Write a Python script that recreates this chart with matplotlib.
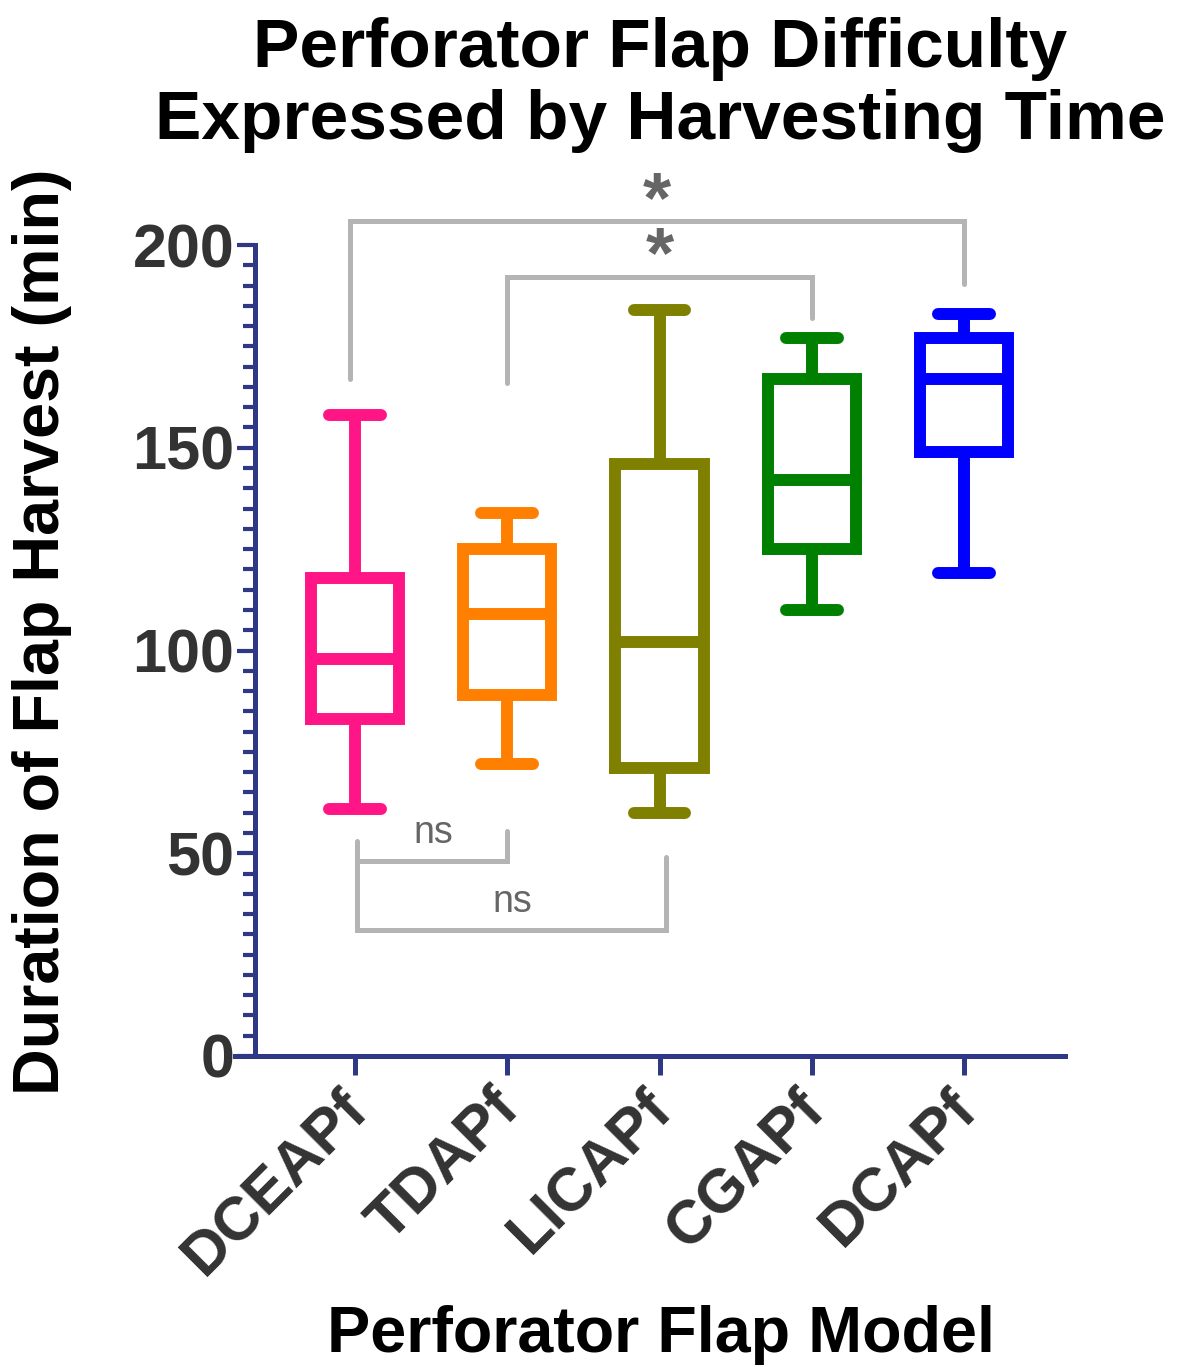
import matplotlib
matplotlib.use("Agg")
import matplotlib.pyplot as plt
from matplotlib.ticker import MultipleLocator
from matplotlib.transforms import ScaledTranslation

plt.rcParams['font.family'] = ['Liberation Sans', 'DejaVu Sans']
plt.rcParams['font.weight'] = 'bold'

# Box summary values (minutes)
models = ["DCEAPf", "TDAPf", "LICAPf", "CGAPf", "DCAPf"]
mins = [61, 72, 60, 110, 119]
q1s = [83, 89, 71, 125, 149]
medians = [98, 109, 102, 142, 167]
q3s = [118, 125, 146, 167, 177]
maxs = [158, 134, 184, 177, 183]
colors = ["#FF1585", "#FF8000", "#808000", "#008000", "#0000FF"]

# significance brackets: (left x, right x, bar y, left leg end, right leg end, label, label x, label y)
sig_pairs = [(-0.03, 4, 206, 167, 190.5, "*", 1.984, 201.9),
             (1, 3, 192, 166, 182, "*", 2.003, 188.4)]
ns_pairs = [(0.015, 1, 48, 53, 55.5, "ns", 52.5), (0.015, 2.04, 31, 48, 49, "ns", 35.5)]

navy = "#2F3884"
gray_line = "#B4B4B4"
gray_text = "#666666"

fig = plt.figure(figsize=(11.86, 13.67), dpi=100)
ax = fig.add_axes([235 / 1186, 311 / 1367, 830 / 1186, 811 / 1367])

stats = []
for i, m in enumerate(models):
    stats.append(dict(label=m, whislo=mins[i], q1=q1s[i], med=medians[i],
                      q3=q3s[i], whishi=maxs[i], fliers=[]))

lw = 8.6
for i, s in enumerate(stats):
    c = colors[i]
    ax.bxp([s], positions=[i], widths=0.58, capwidths=0.34, showfliers=False,
           boxprops=dict(color=c, linewidth=lw, solid_joinstyle="miter"),
           medianprops=dict(color=c, linewidth=lw, solid_capstyle="butt"),
           whiskerprops=dict(color=c, linewidth=lw, solid_capstyle="butt"),
           capprops=dict(color=c, linewidth=lw, solid_capstyle="round"),
           manage_ticks=False)

# brackets above
for a, b, y, la, lb, lab, tx, ty in sig_pairs:
    ax.plot([a, a, b, b], [la, y, y, lb], color=gray_line, lw=3.6,
            solid_capstyle="round", solid_joinstyle="miter", clip_on=False)
    ax.text(tx, ty, lab, ha="center", va="bottom",
            fontsize=52, fontweight="bold", color=gray_text, clip_on=False)

# brackets below
for a, b, y, la, lb, lab, ty in ns_pairs:
    ax.plot([a, a, b, b], [la, y, y, lb], color=gray_line, lw=3.6,
            solid_capstyle="round", solid_joinstyle="miter")
    ax.text((a + b) / 2 + 0.005, ty, lab, ha="center", va="baseline",
            fontsize=27, fontweight="normal", color=gray_text)

ax.set_xlim(-0.788, 4.663)
ax.set_ylim(0, 200)
ax.set_xticks(range(len(models)))
ax.set_xticklabels(models, rotation=45, ha="right", va="top",
                   rotation_mode="anchor", fontsize=44, fontweight="bold",
                   color="#333333")
ax.set_yticks([0, 50, 100, 150, 200])
ax.yaxis.set_minor_locator(MultipleLocator(5))
ax.tick_params(axis="y", which="major", length=13, width=3, color=navy,
               labelsize=44, labelcolor="#333333", pad=2)
ax.tick_params(axis="y", which="minor", length=8.5, width=3, color=navy)
ax.tick_params(axis="x", length=14, width=3.6, color=navy, pad=14)

# nudge the rotated category labels up-left like the original
shift = ScaledTranslation(-17 / 100, 15 / 100, fig.dpi_scale_trans)
for lab in ax.get_xticklabels():
    lab.set_transform(lab.get_transform() + shift)

for side in ["top", "right"]:
    ax.spines[side].set_visible(False)
ax.spines["left"].set_position(("axes", 20 / 830))
ax.spines["left"].set_linewidth(3.6)
ax.spines["left"].set_color(navy)
ax.spines["bottom"].set_linewidth(3.6)
ax.spines["bottom"].set_color(navy)
ax.patch.set_alpha(0)

fig.text(660 / 1186, 1 - 85 / 1367,
         "Perforator Flap Difficulty\nExpressed by Harvesting Time",
         ha="center", va="center", fontsize=50, fontweight="bold",
         linespacing=1.15)
fig.text(42 / 1186, 1 - 632 / 1367, "Duration of Flap Harvest (min)",
         ha="center", va="center", rotation=90, fontsize=46.5,
         fontweight="bold")
fig.text(661 / 1186, 1 - 1335 / 1367, "Perforator Flap Model",
         ha="center", va="center", fontsize=46.5, fontweight="bold")

fig.savefig("out.png", dpi=100)
